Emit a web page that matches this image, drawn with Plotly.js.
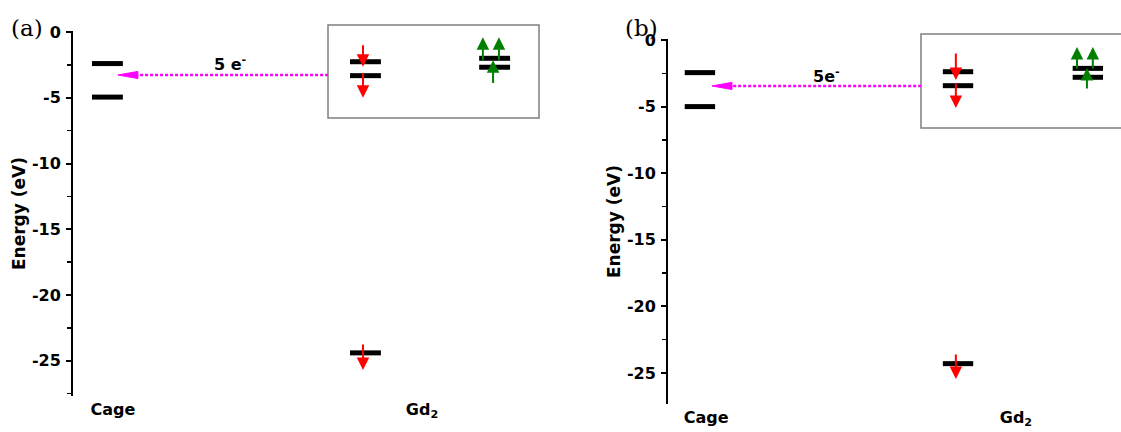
<!DOCTYPE html>
<html><head><meta charset="utf-8">
<script src="https://cdn.plot.ly/plotly-3.0.1.min.js"></script>
<style>html,body{margin:0;padding:0;background:#fff}#chart{width:1121px;height:432px}</style>
</head><body><div id="chart"></div>
<script>
// ---------------- data ----------------
const categories = ['Cage', 'Gd<sub>2</sub>'];
const yTickVals = [0, -5, -10, -15, -20, -25];
const yTickText = ['0', '-5', '-10', '-15', '-20', '-25'];
const panelLabels = ['(a)', '(b)'];
const transferLabels = ['5 e<sup>-</sup>', '5e<sup>-</sup>'];
const transferEnergy = [-3.27, -3.45];           // eV, level of the dotted transfer arrow

// panel (a)
const cageLevelsA = [-2.4, -4.95];
const gdDownLevelsA = [-2.26, -3.32, -24.4];
const gdUpLevelsA = [-2.0, -2.68];
const downArrowFromA = [-0.9, -3.0, -23.65];
const downArrowToA = [-2.65, -5.0, -25.7];
const upArrowFromA = [-2.28, -2.28, -4.0];
const upArrowToA = [-0.4, -0.4, -2.15];

// panel (b)
const cageLevelsB = [-2.45, -5.0];
const gdDownLevelsB = [-2.38, -3.43, -24.3];
const gdUpLevelsB = [-2.13, -2.8];
const downArrowFromB = [-0.9, -3.15, -23.5];
const downArrowToB = [-3.0, -5.1, -25.45];
const upArrowFromB = [-2.25, -2.25, -3.75];
const upArrowToB = [-0.53, -0.53, -2.1];

// ---------------- layout helpers ----------------
const W = 1121, H = 432;
const FONT = {family: 'DejaVu Sans', size: 16, color: '#000', weight: 'bold'};
const TITLEFONT = {family: 'DejaVu Sans', size: 17, color: '#000', weight: 'bold'};

const panels = [
  {xa: 'x', ya: 'y', xd: [73, 560], yd: [31, 396], xr: [0.8706, 2.4466], yr: [-27.68, 0.076],
   cage: cageLevelsA, down: gdDownLevelsA, up: gdUpLevelsA,
   dF: downArrowFromA, dT: downArrowToA, uF: upArrowFromA, uT: upArrowToA,
   cageX: 0.982, redX: 1.817, greenX: 2.235, redArrowX: 1.809, greenArrowX: [2.197, 2.249, 2.230],
   hw: 0.05, tipX: 1.016, tailX: 1.696, labX: 1.379, labY: -2.36,
   box: [328, 539, 25, 118], lab: [27, 28], pxX: 309, pxY: 13.15},
  {xa: 'x2', ya: 'y2', xd: [668, 1121], yd: [39, 404], xr: [0.877, 2.339], yr: [-27.33, 0.075],
   cage: cageLevelsB, down: gdDownLevelsB, up: gdUpLevelsB,
   dF: downArrowFromB, dT: downArrowToB, uF: upArrowFromB, uT: upArrowToB,
   cageX: 0.98, redX: 1.813, greenX: 2.232, redArrowX: 1.806, greenArrowX: [2.197, 2.248, 2.229],
   hw: 0.049, tipX: 1.019, tailX: 1.694, labX: 1.387, labY: -2.63,
   box: [921, 1130, 34, 128], lab: [641, 28], pxX: 310, pxY: 13.32}
];

function levelTrace(xc, hw, ys, xa, ya) {
  const x = [], y = [];
  ys.forEach(v => { x.push(xc - hw, xc + hw, null); y.push(v, v, null); });
  return {x, y, xaxis: xa, yaxis: ya, mode: 'lines', line: {color: '#000', width: 5},
          hoverinfo: 'skip', showlegend: false};
}

const traces = [];
const annotations = [];
const shapes = [];
const layout = {
  width: W, height: H, margin: {l: 0, r: 0, t: 0, b: 0},
  paper_bgcolor: '#fff', plot_bgcolor: 'rgba(0,0,0,0)', showlegend: false,
  font: FONT
};

panels.forEach((p, i) => {
  const n = i === 0 ? '' : '2';
  // levels
  traces.push(levelTrace(p.cageX, p.hw, p.cage, p.xa, p.ya));
  traces.push(levelTrace(p.redX, p.hw, p.down, p.xa, p.ya));
  traces.push(levelTrace(p.greenX, p.hw, p.up, p.xa, p.ya));
  // dotted transfer line
  const ty = transferEnergy[i];
  const headLen = 20 / p.pxX, headHalf = 3.6 / p.pxY;
  traces.push({x: [p.tailX, p.tipX + headLen * 0.8], y: [ty, ty], xaxis: p.xa, yaxis: p.ya,
    mode: 'lines', line: {color: '#ff00ff', width: 2.5, dash: '3px,2px'}, hoverinfo: 'skip'});
  traces.push({x: [p.tipX, p.tipX + headLen, p.tipX + headLen, p.tipX],
    y: [ty, ty + headHalf, ty - headHalf, ty], xaxis: p.xa, yaxis: p.ya,
    mode: 'lines', fill: 'toself', fillcolor: '#ff00ff', line: {color: '#ff00ff', width: 1},
    hoverinfo: 'skip'});
  annotations.push({xref: p.xa, yref: p.ya, x: p.labX, y: p.labY, text: transferLabels[i],
    showarrow: false, font: FONT, xanchor: 'center', yanchor: 'middle'});
  // spin arrows
  p.dF.forEach((f, k) => annotations.push({xref: p.xa, yref: p.ya, axref: p.xa, ayref: p.ya,
    x: p.redArrowX, y: p.dT[k], ax: p.redArrowX, ay: f, text: '', showarrow: true,
    arrowhead: 2, arrowsize: 1.25, arrowwidth: 2, arrowcolor: '#ff0000', standoff: 0}));
  p.uF.forEach((f, k) => annotations.push({xref: p.xa, yref: p.ya, axref: p.xa, ayref: p.ya,
    x: p.greenArrowX[k], y: p.uT[k], ax: p.greenArrowX[k], ay: f, text: '', showarrow: true,
    arrowhead: 2, arrowsize: 1.25, arrowwidth: 2, arrowcolor: '#008000', standoff: 0}));
  // panel label
  annotations.push({xref: 'paper', yref: 'paper', x: p.lab[0] / W, y: 1 - p.lab[1] / H,
    text: panelLabels[i], showarrow: false, xanchor: 'center', yanchor: 'middle',
    font: {family: 'DejaVu Serif', size: 23, color: '#000', weight: 'normal'}});
  // inset box
  shapes.push({type: 'rect', xref: 'paper', yref: 'paper', layer: 'below',
    x0: p.box[0] / W, x1: p.box[1] / W, y0: 1 - p.box[3] / H, y1: 1 - p.box[2] / H,
    line: {color: '#7f7f7f', width: 1.5}, fillcolor: 'rgba(0,0,0,0)'});
  // axes
  layout['xaxis' + n] = {domain: [p.xd[0] / W, p.xd[1] / W], range: p.xr, anchor: p.ya,
    tickmode: 'array', tickvals: [1, 2], ticktext: categories, ticks: '', showline: false,
    showgrid: false, zeroline: false, tickfont: FONT, fixedrange: true, ticklabelstandoff: 2};
  layout['yaxis' + n] = {domain: [1 - p.yd[1] / H, 1 - p.yd[0] / H], range: p.yr, anchor: p.xa,
    tickmode: 'array', tickvals: yTickVals, ticktext: yTickText, ticks: 'outside', ticklen: 5, tickwidth: 2,
    tickcolor: '#000', showline: true, linecolor: '#000', linewidth: 2, showgrid: false,
    zeroline: false, tickfont: FONT, fixedrange: true, ticklabelstandoff: 2,
    minor: {tickmode: 'linear', dtick: 2.5, tick0: 0, ticks: 'outside', ticklen: 4, tickwidth: 1.5, tickcolor: '#000', showgrid: false},
    title: {text: 'Energy (eV)', font: TITLEFONT, standoff: 2}};
});
layout.annotations = annotations;
layout.shapes = shapes;

Plotly.newPlot('chart', traces, layout, {staticPlot: true});
</script>
</body></html>
